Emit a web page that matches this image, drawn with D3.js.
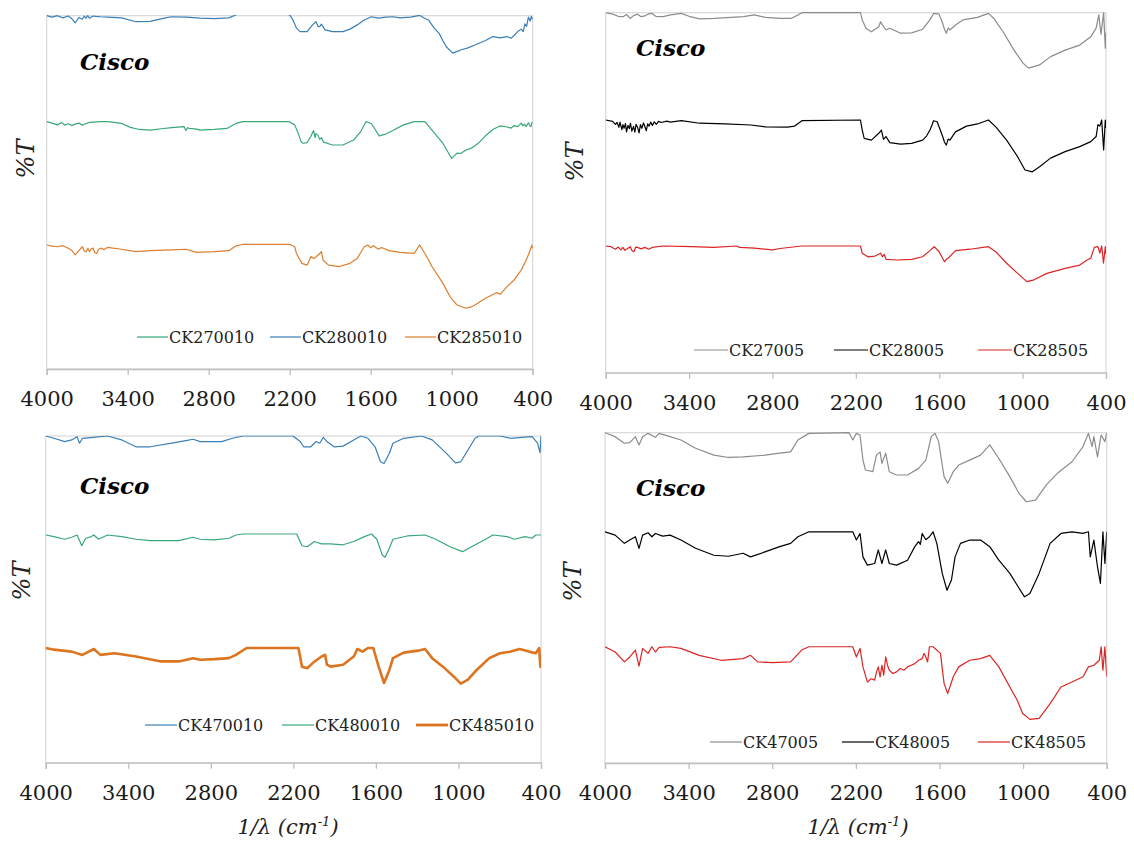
<!DOCTYPE html>
<html>
<head>
<meta charset="utf-8">
<script src="https://cdn.jsdelivr.net/npm/d3@7"></script>
<style>
  html, body { margin: 0; padding: 0; background: #fff; }
  svg { display: block; }
  svg text { font-family: "DejaVu Serif", serif; }
</style>
</head>
<body>
<svg id="chart" width="1134" height="843"></svg>
<script>
// Wavenumber ticks shared by all four spectra panels
const wavenumberTicks = [4000, 3400, 2800, 2200, 1600, 1000, 400];

// Panel A: 10-series samples (offset %T)
const ck270010 = [[4000,70],[3960,69.6],[3921,69.1],[3890,69.8],[3865,69.0],[3841,69.4],[3815,68.9],[3789,69.3],[3760,69.6],[3736,69.0],[3709,69.5],[3683,69.8],[3656,69.9],[3604,70],[3551,70],[3500,69.8],[3445,69.5],[3380,68.4],[3313,67.8],[3234,67.6],[3150,68.0],[3075,68.3],[2982,68.6],[2969,67.5],[2955,68.3],[2943,68.1],[2890,67.9],[2863,67.6],[2758,67.8],[2665,68.1],[2599,69.5],[2546,70],[2203,70],[2163,69.1],[2137,66.7],[2115,64.3],[2102,63.9],[2071,64.1],[2044,65.8],[2023,67.5],[2012,65.5],[2005,66.6],[1991,66.2],[1978,65.0],[1965,65.5],[1952,64.3],[1885,63.4],[1806,63.4],[1727,64.8],[1674,67.2],[1635,70],[1595,69.5],[1537,66.0],[1489,66.5],[1436,67.5],[1357,69.1],[1278,70],[1198,70],[1146,67.6],[1066,63.9],[1000,59.6],[960,61.1],[934,61.0],[894,62.0],[855,62.5],[800,64.0],[749,66.0],[696,67.8],[643,68.8],[590,68.5],[560,68.2],[538,68.9],[510,68.6],[485,69.6],[472,68.8],[460,69.3],[449,68.6],[432,69.7],[420,68.8],[413,68.6],[405,69.8],[400,70]];
const ck280010 = [[4000,100],[3960,99.6],[3921,100],[3880,99.4],[3841,99.9],[3815,99.2],[3789,98],[3760,99.5],[3736,99.0],[3722,99.9],[3709,99.3],[3696,100],[3683,99.3],[3656,99.9],[3604,99.7],[3551,99.6],[3445,99.4],[3339,98.3],[3234,98.4],[3120,99.4],[3075,99.7],[2969,99.6],[2863,99.3],[2758,99.2],[2652,99.4],[2599,100.2],[2560,101.5],[2240,101.5],[2197,100],[2176,98.8],[2150,96.5],[2123,95.5],[2071,95.5],[2031,97.4],[2005,98.3],[1991,97.0],[1978,96.9],[1965,97.6],[1938,96],[1885,95.5],[1806,95.5],[1753,96.2],[1700,97.4],[1648,98.8],[1595,99.7],[1542,99.3],[1489,99.6],[1436,99.7],[1383,99.4],[1304,99.6],[1238,100.1],[1198,99.2],[1172,98.8],[1130,96.5],[1093,95],[1066,93],[1040,91.2],[992,89.4],[960,89.9],[934,90.3],[880,90.9],[828,91.7],[749,93],[696,94.1],[643,93.7],[590,94.1],[560,93.6],[538,94.4],[511,95.5],[485,96.2],[470,95.5],[458,97.7],[445,97.0],[432,99.6],[419,98.5],[410,99.8],[400,98.9]];
const ck285010 = [[4000,35.1],[3960,34.8],[3921,34.6],[3880,34.9],[3841,34.2],[3815,33.6],[3789,32.3],[3762,33.5],[3736,34.6],[3722,33.4],[3709,33.2],[3695,34.2],[3683,33.2],[3670,34.0],[3656,34.2],[3643,32.9],[3630,32.7],[3615,33.9],[3600,34.2],[3575,33.8],[3551,34.4],[3445,33.9],[3339,33.2],[3234,33.5],[3075,33.7],[2969,33.9],[2890,33.0],[2758,33.2],[2652,33.5],[2599,34.8],[2546,35.3],[2203,35.3],[2163,34.6],[2150,32.7],[2110,29.9],[2071,29.4],[2044,31.8],[2018,31.3],[1991,32.2],[1965,33.2],[1952,30.8],[1912,29.4],[1833,29.0],[1753,29.9],[1700,31.3],[1648,34.6],[1621,35.1],[1600,34.3],[1580,34.9],[1542,33.9],[1520,34.4],[1463,33.5],[1383,33.0],[1278,32.7],[1238,35.1],[1198,32.7],[1146,29.0],[1066,24.3],[1013,20.5],[960,18.1],[894,17.2],[855,17.6],[828,18.1],[749,20.0],[670,21.6],[640,21.2],[590,23.3],[538,25.2],[485,28.0],[449,30.8],[430,32.5],[419,33.7],[405,35.1],[400,34.2]];

// Panel B: 05-series samples
const ck27005 = [[4000,100],[3950,99.6],[3910,99.0],[3876,98.9],[3850,99.5],[3824,98.4],[3800,99.2],[3771,99.6],[3745,98.9],[3719,99.1],[3690,99.7],[3666,99.8],[3640,99.0],[3587,98.9],[3534,99.4],[3456,99.8],[3400,99.0],[3324,98.3],[3219,98.4],[3008,98.9],[2930,99.4],[2851,98.7],[2746,98.4],[2667,98.4],[2614,99.4],[2588,100],[2167,100],[2154,98.0],[2127,95.7],[2088,94.7],[2035,96.1],[2022,97.5],[2009,96.6],[1983,95.2],[1956,95.7],[1878,94.3],[1799,94.4],[1720,95.4],[1667,98.0],[1641,99.8],[1601,99.6],[1575,97.0],[1562,95.4],[1549,94.3],[1536,95.8],[1523,95.2],[1483,96.6],[1430,98.0],[1325,98.7],[1246,99.8],[1207,98.4],[1141,94.7],[1062,89.6],[997,86.0],[957,84.6],[878,85.5],[799,87.8],[694,89.6],[589,91.0],[510,93.3],[471,95.7],[452,99.4],[436,94.0],[417,100],[405,90.1],[400,94.5]];
const ck28005 = [[4000,70.2],[3950,69.8],[3930,69.0],[3918,69.5],[3905,68.2],[3897,69.6],[3884,67.5],[3876,68.9],[3868,67.9],[3858,69.2],[3850,66.9],[3840,68.7],[3830,67.8],[3822,69.3],[3812,67.1],[3800,68.4],[3790,66.8],[3782,69.0],[3770,68.1],[3760,66.6],[3750,68.9],[3740,67.9],[3728,69.4],[3718,68.3],[3708,67.2],[3698,69.1],[3688,68.5],[3676,69.6],[3664,68.7],[3650,69.7],[3636,69.0],[3620,69.8],[3600,69.5],[3560,69.9],[3534,69.6],[3456,70.0],[3324,69.3],[3140,69.1],[2956,68.8],[2851,68.3],[2693,68.2],[2640,68.5],[2588,70.0],[2167,70.2],[2154,67.4],[2140,65.1],[2088,64.6],[2035,66.5],[2016,67.4],[2001,64.8],[1983,65.6],[1956,63.9],[1878,63.5],[1799,63.7],[1720,64.6],[1690,65.8],[1667,67.4],[1654,68.6],[1641,70.0],[1615,69.7],[1575,65.6],[1562,64.0],[1549,63.2],[1536,64.9],[1523,64.6],[1483,66.9],[1404,68.5],[1325,69.1],[1246,70.2],[1193,68.3],[1115,64.6],[1036,60.0],[983,56.3],[930,55.8],[878,57.2],[799,59.6],[694,61.4],[589,62.8],[510,64.2],[471,65.6],[458,68.9],[444,68.5],[431,70.2],[417,61.9],[405,70.2],[400,68.0]];
const ck28505 = [[4000,35.2],[3963,35.0],[3930,34.3],[3910,34.9],[3890,34.1],[3876,34.8],[3862,34.0],[3850,34.3],[3824,35.0],[3810,33.9],[3797,33.6],[3784,34.9],[3771,34.8],[3745,34.4],[3719,34.8],[3690,34.3],[3666,34.8],[3587,35.2],[3380,35.0],[3219,34.8],[3061,35.2],[3035,34.8],[2930,34.6],[2799,34.1],[2746,34.5],[2588,35.2],[2167,35.2],[2154,33.2],[2114,32.2],[2062,32.4],[2022,33.2],[2009,32.2],[1996,32.9],[1983,31.5],[1904,31.3],[1799,31.5],[1720,32.2],[1667,33.9],[1636,35.0],[1601,33.6],[1562,30.8],[1549,31.5],[1536,31.8],[1483,33.9],[1378,34.3],[1246,35.0],[1193,33.6],[1115,30.4],[1036,27.6],[970,25.3],[918,25.8],[825,27.6],[694,29.0],[589,29.9],[536,31.3],[510,31.8],[484,34.8],[458,35.0],[444,33.2],[431,35.2],[418,30.4],[405,35.0],[400,33.0]];

// Panel C: 4xx0010 samples
const ck470010 = [[4000,100],[3940,99.3],[3863,98.3],[3811,98.8],[3772,99.8],[3754,97.8],[3733,99.3],[3655,99.6],[3551,100],[3447,98.8],[3344,96.7],[3240,96.7],[3084,97.8],[2981,98.6],[2929,99.0],[2877,98.3],[2721,98.3],[2643,99.3],[2566,100],[2202,100],[2150,98.3],[2125,96.7],[2073,96.7],[2034,98.3],[2008,97.8],[1982,99.6],[1956,98.3],[1904,96.7],[1839,96.9],[1761,98.8],[1709,100],[1658,99.3],[1606,96.7],[1567,92.1],[1541,91.6],[1502,94.7],[1476,97.8],[1398,99.3],[1269,100],[1191,98.8],[1087,94.7],[1022,91.8],[983,92.1],[931,95.7],[879,99.3],[853,100],[698,100],[620,99.3],[542,99.6],[464,99.8],[425,97.8],[407,94.9],[400,100]];
const ck480010 = [[4000,69.7],[3940,69.2],[3863,68.4],[3811,69.0],[3772,69.7],[3738,66.4],[3709,68.7],[3668,69.2],[3650,69.7],[3616,68.4],[3551,69.7],[3447,69.2],[3344,68.4],[3240,68.0],[3032,68.0],[2929,69.0],[2877,68.4],[2773,68.2],[2669,68.7],[2617,69.7],[2566,70.0],[2176,70.0],[2137,66.4],[2099,66.1],[2047,67.7],[1995,67.0],[1930,67.0],[1839,66.7],[1761,67.7],[1684,69.2],[1632,70.0],[1593,68.4],[1554,63.6],[1533,62.9],[1502,65.7],[1476,68.4],[1372,69.4],[1243,69.7],[1165,68.4],[1061,66.1],[970,64.6],[905,66.1],[802,68.4],[750,69.7],[646,69.2],[594,68.4],[516,69.2],[464,68.7],[438,69.7],[400,69.7]];
const ck485010 = [[4000,35.1],[3940,34.6],[3811,34.0],[3733,33.0],[3650,34.8],[3603,33.0],[3499,33.5],[3344,32.5],[3162,31.0],[3032,31.0],[2929,32.0],[2877,31.5],[2773,31.7],[2669,32.0],[2617,33.0],[2540,35.1],[2163,35.1],[2137,29.4],[2099,28.9],[2060,30.5],[1995,32.5],[1969,33.0],[1956,30.0],[1930,29.4],[1839,30.0],[1761,32.5],[1735,34.8],[1697,34.0],[1658,35.1],[1619,35.1],[1580,29.4],[1541,24.4],[1502,28.4],[1476,32.0],[1398,33.7],[1294,34.3],[1243,34.8],[1191,32.0],[1113,29.4],[1035,26.4],[983,24.2],[931,25.4],[879,27.9],[776,32.0],[698,33.5],[620,34.0],[555,34.8],[487,34.0],[438,33.5],[413,35.1],[405,29.4],[400,30.0]];

// Panel D: 4xx05 samples
const ck47005 = [[4000,100],[3927,98.8],[3861,96.8],[3822,97.0],[3782,98.8],[3756,96.3],[3730,98.8],[3691,99.8],[3638,98.6],[3612,99.8],[3533,98.8],[3455,97.8],[3350,95.3],[3219,93.2],[3114,92.5],[3009,92.7],[2852,93.2],[2747,93.8],[2668,94.2],[2616,97.8],[2537,99.8],[2249,100],[2222,97.8],[2196,99.8],[2170,99.3],[2149,91.7],[2131,88.7],[2078,88.2],[2052,93.2],[2026,94.2],[2013,90.7],[1986,93.8],[1960,88.2],[1908,87.2],[1829,87.2],[1750,89.2],[1698,91.7],[1659,98.8],[1632,99.8],[1606,97.3],[1567,86.7],[1541,84.7],[1501,88.2],[1462,90.2],[1383,91.7],[1305,93.2],[1239,96.3],[1174,92.2],[1095,86.7],[1029,81.6],[977,79.1],[911,79.6],[833,84.2],[754,87.7],[649,91.2],[570,95.8],[531,99.8],[505,95.8],[492,98.8],[466,92.7],[440,99.3],[413,97.3],[400,100]];
const ck48005 = [[4000,70.0],[3927,69.0],[3861,66.5],[3822,67.5],[3782,68.5],[3756,65.0],[3730,69.0],[3691,69.7],[3664,68.5],[3638,69.5],[3586,68.7],[3533,69.0],[3455,67.5],[3350,65.0],[3219,62.9],[3114,62.6],[3009,63.5],[2956,62.4],[2852,63.9],[2747,65.5],[2668,66.5],[2616,68.5],[2537,70.0],[2222,70.0],[2196,67.5],[2170,69.5],[2149,62.4],[2117,59.9],[2065,60.4],[2039,64.5],[2013,60.4],[1986,64.5],[1960,60.4],[1908,59.9],[1829,61.4],[1777,65.5],[1750,67.0],[1737,66.2],[1724,69.5],[1698,67.6],[1672,68.5],[1646,70.0],[1619,66.5],[1580,57.4],[1546,52.3],[1514,55.4],[1488,62.4],[1449,66.5],[1383,67.5],[1305,67.5],[1239,65.5],[1174,61.4],[1095,57.4],[1042,53.8],[990,50.3],[951,51.3],[885,57.4],[806,66.5],[728,69.5],[649,70.0],[570,69.5],[531,70.0],[518,62.4],[492,67.5],[466,59.4],[445,54.4],[427,70.0],[413,60.4],[400,70.0]];
const ck48505 = [[4000,35.2],[3927,33.6],[3861,30.6],[3822,32.1],[3782,34.2],[3756,29.3],[3730,34.7],[3691,33.2],[3664,35.2],[3638,33.6],[3612,35.0],[3533,35.2],[3455,34.7],[3324,32.6],[3166,31.1],[3009,31.6],[2956,32.6],[2904,30.6],[2799,30.4],[2668,30.6],[2589,34.2],[2537,35.2],[2222,35.2],[2196,32.1],[2170,34.7],[2149,29.1],[2117,24.5],[2091,25.5],[2065,25.1],[2052,27.5],[2039,29.1],[2026,26.1],[2013,29.6],[2000,26.6],[1986,32.1],[1973,29.6],[1960,28.1],[1934,27.1],[1908,27.6],[1882,28.6],[1855,28.1],[1829,29.1],[1803,29.6],[1777,30.1],[1750,31.1],[1724,31.6],[1711,33.2],[1698,32.1],[1685,30.6],[1672,35.2],[1646,35.2],[1593,33.2],[1567,24.1],[1541,21.0],[1501,26.1],[1462,29.1],[1383,31.1],[1305,31.6],[1239,32.6],[1174,29.1],[1095,23.0],[1042,19.0],[1003,15.0],[951,13.2],[885,13.5],[806,18.0],[728,23.0],[649,24.5],[570,26.1],[531,29.1],[492,29.6],[453,31.1],[440,35.2],[427,28.1],[413,35.2],[400,26.1]];

// Series names per panel, in legend order
const panelASeries = ["CK270010", "CK280010", "CK285010"];
const panelBSeries = ["CK27005", "CK28005", "CK28505"];
const panelCSeries = ["CK470010", "CK480010", "CK485010"];
const panelDSeries = ["CK47005", "CK48005", "CK48505"];

const seriesData = {
  CK270010: ck270010, CK280010: ck280010, CK285010: ck285010,
  CK27005: ck27005, CK28005: ck28005, CK28505: ck28505,
  CK470010: ck470010, CK480010: ck480010, CK485010: ck485010,
  CK47005: ck47005, CK48005: ck48005, CK48505: ck48505
};

const seriesStyle = {
  CK270010: { color: "#38a878", width: 1.2 },
  CK280010: { color: "#3a7fb8", width: 1.2 },
  CK285010: { color: "#dc7e2e", width: 1.2 },
  CK27005:  { color: "#8c8c8c", width: 1.2 },
  CK28005:  { color: "#000000", width: 1.2 },
  CK28505:  { color: "#dc2424", width: 1.2 },
  CK470010: { color: "#3a7fb8", width: 1.2 },
  CK480010: { color: "#38a878", width: 1.2 },
  CK485010: { color: "#dc7420", width: 2.6 },
  CK47005:  { color: "#8c8c8c", width: 1.2 },
  CK48005:  { color: "#000000", width: 1.2 },
  CK48505:  { color: "#dc2424", width: 1.2 }
};

// Frame geometry of each panel
const panels = [
  { series: panelASeries, left: 46.7, right: 532.7, top: 15.7, bottom: 369,
    cisco: [80, 70], ylab: [26, 159], legendY: 337, legendX: [137, 270, 405], legendLen: 31, xTitle: null },
  { series: panelBSeries, left: 605.7, right: 1106, top: 12.7, bottom: 372.7,
    cisco: [636, 56], ylab: [575, 162], legendY: 350, legendX: [694, 834, 978], legendLen: 34, xTitle: null },
  { series: panelCSeries, left: 45.7, right: 541, top: 436, bottom: 762.7,
    cisco: [80, 494], ylab: [22, 581], legendY: 725, legendX: [145, 282, 416], legendLen: 32, xTitle: [288, 834] },
  { series: panelDSeries, left: 605, right: 1106.7, top: 432.7, bottom: 763,
    cisco: [636, 496], ylab: [573, 582], legendY: 742, legendX: [710, 842, 978], legendLen: 32, xTitle: [858, 834] }
];

const svg = d3.select("#chart");
const serif = '"DejaVu Serif", serif';

panels.forEach((p, i) => {
  const x = d3.scaleLinear().domain([4000, 400]).range([p.left, p.right]);
  const y = d3.scaleLinear().domain([0, 100]).range([p.bottom, p.top]);
  const g = svg.append("g");

  // plot frame
  g.append("rect")
    .attr("x", p.left).attr("y", p.top)
    .attr("width", p.right - p.left).attr("height", p.bottom - p.top)
    .attr("fill", "none").attr("stroke", "#d9d9d9").attr("stroke-width", 1.2);

  // spectra, clipped to the frame
  const clipId = "clip" + i;
  svg.append("clipPath").attr("id", clipId)
    .append("rect").attr("x", p.left).attr("y", p.top - 0.6)
    .attr("width", p.right - p.left).attr("height", p.bottom - p.top + 0.6);

  const line = d3.line().x(d => x(d[0])).y(d => y(d[1]));
  const curves = g.append("g").attr("clip-path", `url(#${clipId})`);
  p.series.forEach(name => {
    const s = seriesStyle[name];
    curves.append("path")
      .datum(seriesData[name])
      .attr("d", line)
      .attr("fill", "none")
      .attr("stroke", s.color)
      .attr("stroke-width", s.width)
      .attr("stroke-linejoin", "round");
  });

  // bottom axis
  const axis = d3.axisBottom(x).tickValues(wavenumberTicks).tickFormat(d3.format("d"))
    .tickSize(6).tickPadding(16);
  const ax = g.append("g").attr("transform", `translate(0,${p.bottom})`).call(axis);
  ax.attr("font-family", null);
  ax.select(".domain").attr("stroke", "#bfbfbf").attr("stroke-width", 1.3);
  ax.selectAll(".tick line").attr("stroke", "#bfbfbf").attr("stroke-width", 1.3);
  ax.selectAll(".tick text")
    .style("font-family", serif).style("font-size", "21px").attr("fill", "#1a1a1a");

  // sample label
  g.append("text")
    .attr("x", p.cisco[0]).attr("y", p.cisco[1])
    .style("font-family", serif).style("font-size", "23px")
    .style("font-weight", "bold").style("font-style", "italic")
    .text("Cisco");

  // y axis title
  g.append("text")
    .attr("transform", `translate(${p.ylab[0]},${p.ylab[1]}) rotate(-90)`)
    .attr("text-anchor", "middle").attr("dominant-baseline", "central")
    .style("font-family", serif).style("font-size", "24px").style("font-style", "italic")
    .attr("fill", "#222")
    .text("%T");

  // legend
  p.series.forEach((name, k) => {
    const s = seriesStyle[name];
    const lx = p.legendX[k];
    g.append("line")
      .attr("x1", lx).attr("x2", lx + p.legendLen)
      .attr("y1", p.legendY).attr("y2", p.legendY)
      .attr("stroke", s.color).attr("stroke-width", s.width > 2 ? 2.8 : 1.2);
    g.append("text")
      .attr("x", lx + p.legendLen + 1).attr("y", p.legendY + 6)
      .style("font-family", serif).style("font-size", "16px").attr("fill", "#222")
      .text(name);
  });

  // x axis title
  if (p.xTitle) {
    const t = g.append("text")
      .attr("x", p.xTitle[0]).attr("y", p.xTitle[1])
      .attr("text-anchor", "middle")
      .style("font-family", serif).style("font-size", "21px").style("font-style", "italic")
      .attr("fill", "#222");
    t.append("tspan").text("1/λ (cm");
    t.append("tspan").style("font-size", "13px").attr("dy", -8).text("-1");
    t.append("tspan").attr("dy", 8).text(")");
  }
});
</script>
</body>
</html>
